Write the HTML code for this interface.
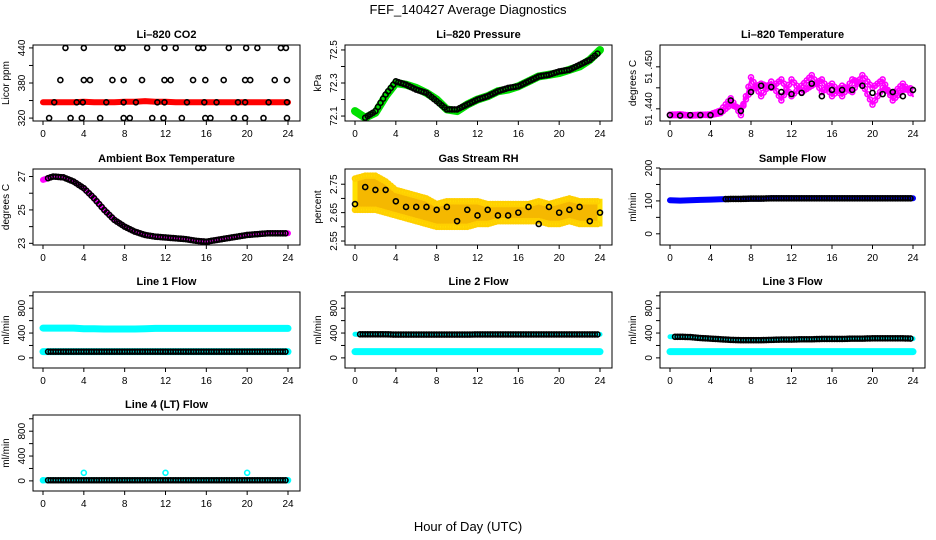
<!DOCTYPE html>
<html><head><meta charset="utf-8"><style>
body{margin:0;background:#fff}
svg{display:block;font-family:"Liberation Sans",sans-serif}
</style></head><body>
<svg id="chart" width="936" height="540" viewBox="0 0 936 540">
<text x="468" y="14" text-anchor="middle" font-size="13">FEF_140427  Average Diagnostics</text>
<text x="468" y="531" text-anchor="middle" font-size="13">Hour of Day (UTC)</text>
</svg>
<script>
const hours=[0,1,2,3,4,5,6,7,8,9,10,11,12,13,14,15,16,17,18,19,20,21,22,23,24];
const xTicks=[0,4,8,12,16,20,24];
// CO2
const co2Red=[347,347,347,347,348,347,347,347,348,348,349,348,348,347,347,347,347,347,347,347,347,347,347,347,347];
const co2BlackH=[2.2,4,7.3,7.8,10.2,11.9,13,15.2,15.7,18.2,19.9,21,23.3,23.8,1.7,4,4.6,6.8,7.9,9.7,11.9,12.5,14.7,15.9,17.7,19.8,20.3,22.7,23.9,1.1,3.3,3.9,6.2,7.9,9.1,11.2,11.9,14.1,15.8,17,19.1,19.8,22.1,23.9,0.6,2.7,3.8,5.6,7.9,8.5,10.7,11.8,13.6,15.9,16.4,18.7,19.8,21.6,23.9];
const co2BlackV=[440,440,440,440,440,440,440,440,440,440,440,440,440,440,385,385,385,385,385,385,385,385,385,385,385,385,385,385,385,347,347,347,347,347,347,347,347,347,347,347,347,347,347,347,320,320,320,320,320,320,320,320,320,320,320,320,320,320,320];
// Pressure
const pressGreen=[72.13,72.09,72.12,72.22,72.3,72.29,72.27,72.24,72.2,72.14,72.13,72.17,72.2,72.22,72.25,72.26,72.28,72.31,72.34,72.35,72.36,72.38,72.4,72.44,72.5];
const pressBlack=[72.12,72.09,72.13,72.23,72.31,72.29,72.26,72.24,72.19,72.14,72.14,72.17,72.2,72.22,72.25,72.27,72.28,72.31,72.34,72.35,72.37,72.38,72.41,72.44,72.49];
// Li-820 temperature
const tempA=[51.4385,51.4385,51.4385,51.4386,51.4385,51.4390,51.4410,51.4400,51.4445,51.4460,51.4450,51.4470,51.4430,51.4455,51.4480,51.4440,51.4460,51.4430,51.4470,51.4460,51.4410,51.4450,51.4435,51.4460,51.4430];
const tempB=[51.4386,51.4387,51.4384,51.4385,51.4387,51.4396,51.4425,51.4385,51.4475,51.4430,51.4465,51.4420,51.4470,51.4440,51.4455,51.4470,51.4430,51.4455,51.4440,51.4480,51.4450,51.4470,51.4420,51.4445,51.4450];
const tempBlack=[51.4385,51.4384,51.4385,51.4385,51.4385,51.4393,51.4420,51.4395,51.4440,51.4455,51.4452,51.4440,51.4435,51.4438,51.4460,51.4430,51.4445,51.4445,51.4445,51.4455,51.4438,51.4435,51.4440,51.4430,51.4445];
// Ambient
const ambient=[26.8,27.0,26.95,26.7,26.3,25.7,25.0,24.4,24.0,23.7,23.5,23.4,23.35,23.3,23.25,23.15,23.1,23.2,23.3,23.4,23.5,23.55,23.6,23.6,23.6];
// RH
const rhHi=[2.77,2.78,2.78,2.76,2.73,2.72,2.71,2.70,2.68,2.69,2.69,2.69,2.69,2.68,2.68,2.68,2.68,2.68,2.69,2.68,2.69,2.70,2.69,2.69,2.69];
const rhLo=[2.66,2.66,2.66,2.65,2.64,2.63,2.62,2.61,2.60,2.60,2.60,2.60,2.61,2.61,2.62,2.62,2.62,2.62,2.62,2.61,2.61,2.62,2.61,2.61,2.61];
const rhBlack=[2.68,2.74,2.73,2.73,2.69,2.67,2.67,2.67,2.66,2.67,2.62,2.66,2.64,2.66,2.64,2.64,2.65,2.67,2.61,2.67,2.65,2.66,2.67,2.62,2.65];
// Sample flow
const sampleBlue=[102,101,102,103,104,105,106,106,107,107,108,108,108,108,108,108,108,108,108,108,108,108,108,108,108];
// Line flows
const line1Cyan=[480,480,480,480,470,470,465,465,465,465,470,475,475,475,475,475,475,475,475,475,475,475,475,475,475];
const line1Black=[100,100,100,100,100,100,100,100,100,100,100,100,100,100,100,100,100,100,100,100,100,100,100,100,100];
const line2Black=[380,380,380,380,375,375,375,375,375,375,375,375,378,378,378,378,378,378,378,378,378,378,378,378,378];
const line2Cyan=[100,100,100,100,100,100,100,100,100,100,100,100,100,100,100,100,100,100,100,100,100,100,100,100,100];
const line3Black=[340,340,335,320,310,300,290,285,285,285,290,295,295,300,300,305,305,305,310,310,315,315,315,315,310];
const line3Cyan=[100,100,100,100,100,100,100,100,100,100,100,100,100,100,100,100,100,100,100,100,100,100,100,100,100];
const line4Black=[10,10,10,10,10,10,10,10,10,10,10,10,10,10,10,10,10,10,10,10,10,10,10,10,10];
const line4Cyan=[10,10,10,10,130,10,10,10,10,10,10,10,130,10,10,10,10,10,10,10,130,10,10,10,10];

const NS="http://www.w3.org/2000/svg";
const svg=document.getElementById('chart');
function mk(tag,attrs,parent){const e=document.createElementNS(NS,tag);for(const k in attrs)e.setAttribute(k,attrs[k]);(parent||svg).appendChild(e);return e;}
const colX=[33,345,660],colW=[267,267,265],rowY=[45,169,292,415],H=76;

function panel(p){
  const L=colX[p.c],W=colW[p.c],T=rowY[p.r];
  const g=mk('g',{});
  
  
  const xs=h=>L+10+h*(W-22)/24;
  const ys=v=>T+H-(v-p.ylim[0])/(p.ylim[1]-p.ylim[0])*H;
  const t=mk('text',{x:L+W/2,y:T-7,'text-anchor':'middle','font-size':11,'font-weight':'bold'},g);
  t.textContent=p.title;
  
  
  const clip='c'+p.name;
  const cp=mk('clipPath',{id:clip},g);mk('rect',{x:L,y:T,width:W,height:H},cp);
  const pg=mk('g',{'clip-path':'url(#'+clip+')'},g);
  p.draw(pg,xs,ys);
  const box=mk('rect',{x:L,y:T,width:W,height:H,fill:'none',stroke:'#000','stroke-width':1},g);
  
  
  mk('line',{x1:xs(0),x2:xs(24),y1:T+H,y2:T+H,stroke:'#000'},g);
  xTicks.forEach(h=>{
    mk('line',{x1:xs(h),x2:xs(h),y1:T+H,y2:T+H+4,stroke:'#000'},g);
    const tl=mk('text',{x:xs(h),y:T+H+16,'text-anchor':'middle','font-size':10},g);tl.textContent=h;
    
    
  });
  const ay0=ys(p.yticks[0]),ay1=ys(p.yticks[p.yticks.length-1]);
  mk('line',{x1:L,x2:L,y1:ay0,y2:ay1,stroke:'#000'},g);
  p.yticks.forEach(v=>{
    mk('line',{x1:L-4,x2:L,y1:ys(v),y2:ys(v),stroke:'#000'},g);
  });
  p.ylabels.forEach(v=>{
    const yy=ys(v);
    const tl=mk('text',{x:0,y:0,'text-anchor':'middle','font-size':10,transform:`translate(${L-8},${yy}) rotate(-90)`},g);
    tl.textContent=p.fmt?p.fmt(v):v;
    
    
  });
  const yt=mk('text',{x:0,y:0,'text-anchor':'middle','font-size':10,transform:`translate(${L-24},${T+H/2}) rotate(-90)`},g);
  yt.textContent=p.ytitle;
  
  
}
function band(g,xs,ys,vals,col,w){
  const pl=mk('polyline',{points:vals.map((v,i)=>xs(hours[i])+','+ys(v)).join(' '),fill:'none',stroke:col,'stroke-width':w,'stroke-linejoin':'round','stroke-linecap':'round'},g);
  
  
}
function dots(g,xs,ys,hs,vals,col,r,sw){
  vals.forEach((v,i)=>{
    const c=mk('circle',{cx:xs(hs[i]),cy:ys(v),r:r||2.5,fill:'none',stroke:col,'stroke-width':sw||1.6},g);
    
    
  });
}
function dense(g,xs,ys,vals,col,start){
  for(let i=0;i<vals.length-1;i++){for(let k=0;k<4;k++){const f=k/4;const h=hours[i]+f;if(start&&h<start)continue;const v=vals[i]*(1-f)+vals[i+1]*f;
    const c=mk('circle',{cx:xs(h),cy:ys(v),r:2.5,fill:'none',stroke:col,'stroke-width':1.6},g);
    
    }}
}
const panels=[
 {name:'co2-panel',r:0,c:0,title:'Li–820 CO2',ytitle:'Licor ppm',ylim:[315,445],yticks:[320,350,380,410,440],ylabels:[320,380,440],
  draw:(g,xs,ys)=>{band(g,xs,ys,co2Red,'#f00',6);dots(g,xs,ys,co2BlackH,co2BlackV,'#000');}},
 {name:'pressure-panel',r:0,c:1,title:'Li–820 Pressure',ytitle:'kPa',ylim:[72.07,72.53],yticks:[72.1,72.2,72.3,72.4,72.5],ylabels:[72.1,72.3,72.5],
  draw:(g,xs,ys)=>{band(g,xs,ys,pressGreen,'#00e000',8);dense(g,xs,ys,pressBlack,'#000',1);}},
 {name:'li820-temp-panel',r:0,c:2,title:'Li–820 Temperature',ytitle:'degrees C',ylim:[51.4371,51.4552],yticks:[51.44,51.445,51.45],ylabels:[51.44,51.45],fmt:v=>v.toFixed(3).replace('51.','51 .'),
  draw:(g,xs,ys)=>{band(g,xs,ys,tempA,'#f0f',2);band(g,xs,ys,tempB,'#f0f',2);dense(g,xs,ys,tempA,'#f0f');dense(g,xs,ys,tempB,'#f0f');dots(g,xs,ys,hours,tempBlack,'#000');}},
 {name:'ambient-temp-panel',r:1,c:0,title:'Ambient Box Temperature',ytitle:'degrees C',ylim:[22.9,27.45],yticks:[23,24,25,26,27],ylabels:[23,25,27],
  draw:(g,xs,ys)=>{band(g,xs,ys,ambient,'#f0f',6);dense(g,xs,ys,ambient,'#000',0.5);}},
 {name:'rh-panel',r:1,c:1,title:'Gas Stream RH',ytitle:'percent',ylim:[2.536,2.8036],yticks:[2.55,2.6,2.65,2.7,2.75],ylabels:[2.55,2.65,2.75],fmt:v=>v.toFixed(2),
  draw:(g,xs,ys)=>{const pts=rhHi.map((v,i)=>xs(hours[i])+','+ys(v)).concat(rhLo.map((v,i)=>xs(hours[i])+','+ys(v)).reverse());
   const pg=mk('polygon',{points:pts.join(' '),fill:'#f5b800',stroke:'#ffe000','stroke-width':5},g);
   
   
   dense(g,xs,ys,rhHi,'#ffd000');dense(g,xs,ys,rhLo,'#ffd000');
   dots(g,xs,ys,hours,rhBlack,'#000');}},
 {name:'sample-flow-panel',r:1,c:2,title:'Sample Flow',ytitle:'ml/min',ylim:[-34,197],yticks:[0,50,100,150,200],ylabels:[0,100,200],
  draw:(g,xs,ys)=>{band(g,xs,ys,sampleBlue,'#00f',6);dense(g,xs,ys,sampleBlue,'#000',5.5);}},
 {name:'line1-flow-panel',r:2,c:0,title:'Line 1 Flow',ytitle:'ml/min',ylim:[-163,1061],yticks:[0,200,400,600,800,1000],ylabels:[0,400,800],
  draw:(g,xs,ys)=>{band(g,xs,ys,line1Cyan,'#0ff',7);band(g,xs,ys,line1Black,'#0ff',7);dense(g,xs,ys,line1Black,'#000',0.5);}},
 {name:'line2-flow-panel',r:2,c:1,title:'Line 2 Flow',ytitle:'ml/min',ylim:[-163,1061],yticks:[0,200,400,600,800,1000],ylabels:[0,400,800],
  draw:(g,xs,ys)=>{band(g,xs,ys,line2Cyan,'#0ff',7);band(g,xs,ys,line2Black,'#0ff',5);dense(g,xs,ys,line2Black,'#000',0.5);}},
 {name:'line3-flow-panel',r:2,c:2,title:'Line 3 Flow',ytitle:'ml/min',ylim:[-163,1061],yticks:[0,200,400,600,800,1000],ylabels:[0,400,800],
  draw:(g,xs,ys)=>{band(g,xs,ys,line3Cyan,'#0ff',7);band(g,xs,ys,line3Black,'#0ff',5);dense(g,xs,ys,line3Black,'#000',0.5);}},
 {name:'line4-flow-panel',r:3,c:0,title:'Line 4 (LT) Flow',ytitle:'ml/min',ylim:[-163,1061],yticks:[0,200,400,600,800,1000],ylabels:[0,400,800],
  draw:(g,xs,ys)=>{band(g,xs,ys,line4Black,'#0ff',6);dots(g,xs,ys,hours,line4Cyan,'#0ff');dense(g,xs,ys,line4Black,'#000',0.5);}}
];
panels.forEach(panel);
</script>
</body></html>
